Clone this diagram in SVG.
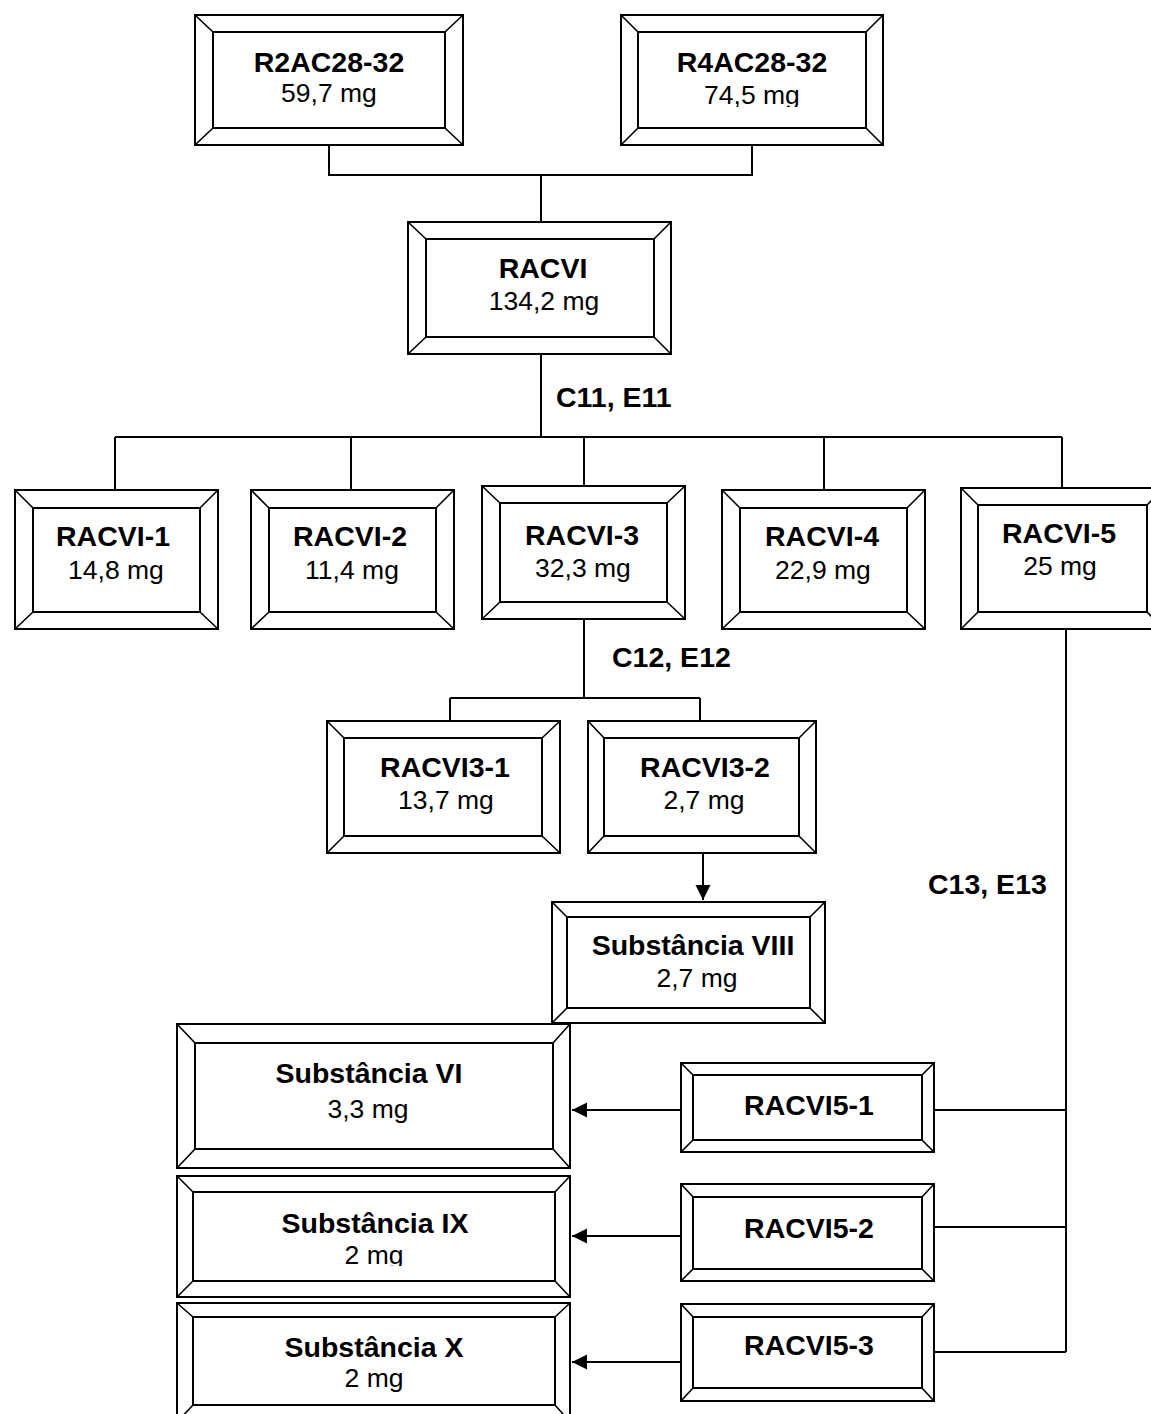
<svg xmlns="http://www.w3.org/2000/svg" width="1151" height="1414" viewBox="0 0 1151 1414">
<style>
.o{fill:#fff;stroke:#000;stroke-width:2}
.i{fill:none;stroke:#000;stroke-width:2}
.d{fill:none;stroke:#000;stroke-width:1.6}
.n{font-family:"Liberation Sans",Arial,sans-serif;font-weight:bold;font-size:28.5px;text-anchor:middle;fill:#000}
.v{font-family:"Liberation Sans",Arial,sans-serif;font-size:26.5px;text-anchor:middle;fill:#000}
.l{font-family:"Liberation Sans",Arial,sans-serif;font-weight:bold;font-size:28.5px;fill:#000}
.c{fill:none;stroke:#000;stroke-width:2}
</style>
<defs>
<marker id="ah" markerUnits="userSpaceOnUse" markerWidth="16" markerHeight="16" refX="15" refY="7.5" orient="auto">
<path d="M0,0 L15,7.5 L0,15 z" fill="#000"/>
</marker>
<clipPath id="clipIX"><rect x="177" y="1176" width="393" height="90"/></clipPath>
<clipPath id="clipR4"><rect x="621" y="15" width="262" height="92"/></clipPath>
</defs>
<rect width="1151" height="1414" fill="#fff"/>

<g id="connectors">
<path class="c" d="M329,145 V175 H752 V145"/>
<path class="c" d="M541,175 V222"/>
<path class="c" d="M541,354 V437"/>
<path class="c" d="M115,437 H1062"/>
<path class="c" d="M115,437 V490 M351,437 V490 M584,437 V486 M824,437 V490 M1062,437 V488"/>
<path class="c" d="M584,619 V698 M450,698 H700 M450,698 V721 M700,698 V721"/>
<path class="c" d="M703,853 V900" marker-end="url(#ah)"/>
<path class="c" d="M1066,629 V1352 M934,1110 H1066 M934,1227 H1066 M934,1352 H1066"/>
<path class="c" d="M681,1110 H572" marker-end="url(#ah)"/>
<path class="c" d="M681,1236 H572" marker-end="url(#ah)"/>
<path class="c" d="M681,1362 H572" marker-end="url(#ah)"/>
</g>

<g id="labels">
<text class="l" x="556" y="407">C11, E11</text>
<text class="l" x="612" y="667">C12, E12</text>
<text class="l" x="928" y="894">C13, E13</text>
</g>

<g id="R2AC28-32">
<rect class="o" x="195" y="15" width="268" height="130"/>
<rect class="i" x="213" y="32" width="232" height="96"/>
<path class="d" d="M195,15 L213,32 M463,15 L445,32 M195,145 L213,128 M463,145 L445,128"/>
<text class="n" x="329" y="72">R2AC28-32</text>
<text class="v" x="329" y="102">59,7 mg</text>
</g>

<g id="R4AC28-32">
<rect class="o" x="621" y="15" width="262" height="130"/>
<rect class="i" x="638" y="32" width="228" height="96"/>
<path class="d" d="M621,15 L638,32 M883,15 L866,32 M621,145 L638,128 M883,145 L866,128"/>
<text class="n" x="752" y="72">R4AC28-32</text>
<text class="v" x="752" y="104" clip-path="url(#clipR4)">74,5 mg</text>
</g>

<g id="RACVI">
<rect class="o" x="408" y="222" width="263" height="132"/>
<rect class="i" x="426" y="239" width="228" height="98"/>
<path class="d" d="M408,222 L426,239 M671,222 L654,239 M408,354 L426,337 M671,354 L654,337"/>
<text class="n" x="543" y="278">RACVI</text>
<text class="v" x="544" y="310">134,2 mg</text>
</g>

<g id="RACVI-1">
<rect class="o" x="15" y="490" width="203" height="139"/>
<rect class="i" x="33" y="508" width="167" height="104"/>
<path class="d" d="M15,490 L33,508 M218,490 L200,508 M15,629 L33,612 M218,629 L200,612"/>
<text class="n" x="113" y="546">RACVI-1</text>
<text class="v" x="116" y="579">14,8 mg</text>
</g>

<g id="RACVI-2">
<rect class="o" x="251" y="490" width="203" height="139"/>
<rect class="i" x="269" y="508" width="167" height="104"/>
<path class="d" d="M251,490 L269,508 M454,490 L436,508 M251,629 L269,612 M454,629 L436,612"/>
<text class="n" x="350" y="546">RACVI-2</text>
<text class="v" x="352" y="579">11,4 mg</text>
</g>

<g id="RACVI-3">
<rect class="o" x="482" y="486" width="203" height="133"/>
<rect class="i" x="500" y="503" width="167" height="99"/>
<path class="d" d="M482,486 L500,503 M685,486 L667,503 M482,619 L500,602 M685,619 L667,602"/>
<text class="n" x="582" y="545">RACVI-3</text>
<text class="v" x="583" y="577">32,3 mg</text>
</g>

<g id="RACVI-4">
<rect class="o" x="722" y="490" width="203" height="139"/>
<rect class="i" x="740" y="508" width="167" height="104"/>
<path class="d" d="M722,490 L740,508 M925,490 L907,508 M722,629 L740,612 M925,629 L907,612"/>
<text class="n" x="822" y="546">RACVI-4</text>
<text class="v" x="823" y="579">22,9 mg</text>
</g>

<g id="RACVI-5">
<rect class="o" x="961" y="488" width="203" height="141"/>
<rect class="i" x="978" y="505" width="169" height="107"/>
<path class="d" d="M961,488 L978,505 M1164,488 L1147,505 M961,629 L978,612 M1164,629 L1147,612"/>
<text class="n" x="1059" y="543">RACVI-5</text>
<text class="v" x="1060" y="575">25 mg</text>
</g>

<g id="RACVI3-1">
<rect class="o" x="327" y="721" width="233" height="132"/>
<rect class="i" x="344" y="738" width="198" height="98"/>
<path class="d" d="M327,721 L344,738 M560,721 L542,738 M327,853 L344,836 M560,853 L542,836"/>
<text class="n" x="445" y="777">RACVI3-1</text>
<text class="v" x="446" y="809">13,7 mg</text>
</g>

<g id="RACVI3-2">
<rect class="o" x="588" y="721" width="228" height="132"/>
<rect class="i" x="604" y="738" width="195" height="98"/>
<path class="d" d="M588,721 L604,738 M816,721 L799,738 M588,853 L604,836 M816,853 L799,836"/>
<text class="n" x="705" y="777">RACVI3-2</text>
<text class="v" x="704" y="809">2,7 mg</text>
</g>

<g id="Substancia-VIII">
<rect class="o" x="552" y="902" width="273" height="121"/>
<rect class="i" x="567" y="917" width="243" height="91"/>
<path class="d" d="M552,902 L567,917 M825,902 L810,917 M552,1023 L567,1008 M825,1023 L810,1008"/>
<text class="n" x="693" y="955">Substância VIII</text>
<text class="v" x="697" y="987">2,7 mg</text>
</g>

<g id="Substancia-VI">
<rect class="o" x="177" y="1024" width="393" height="144"/>
<rect class="i" x="195" y="1043" width="358" height="106"/>
<path class="d" d="M177,1024 L195,1043 M570,1024 L553,1043 M177,1168 L195,1149 M570,1168 L553,1149"/>
<text class="n" x="369" y="1083">Substância VI</text>
<text class="v" x="368" y="1118">3,3 mg</text>
</g>

<g id="Substancia-IX">
<rect class="o" x="177" y="1176" width="393" height="121"/>
<rect class="i" x="193" y="1192" width="362" height="89"/>
<path class="d" d="M177,1176 L193,1192 M570,1176 L555,1192 M177,1297 L193,1281 M570,1297 L555,1281"/>
<text class="n" x="375" y="1233">Substância IX</text>
<text class="v" x="374" y="1264" clip-path="url(#clipIX)">2 mg</text>
</g>

<g id="Substancia-X">
<rect class="o" x="177" y="1303" width="393" height="119"/>
<rect class="i" x="193" y="1317" width="362" height="88"/>
<path class="d" d="M177,1303 L193,1317 M570,1303 L555,1317 M177,1422 L193,1405 M570,1422 L555,1405"/>
<text class="n" x="374" y="1357">Substância X</text>
<text class="v" x="374" y="1387">2 mg</text>
</g>

<g id="RACVI5-1">
<rect class="o" x="681" y="1063" width="253" height="89"/>
<rect class="i" x="693" y="1075" width="229" height="65"/>
<path class="d" d="M681,1063 L693,1075 M934,1063 L922,1075 M681,1152 L693,1140 M934,1152 L922,1140"/>
<text class="n" x="809" y="1115">RACVI5-1</text>
</g>

<g id="RACVI5-2">
<rect class="o" x="681" y="1184" width="253" height="97"/>
<rect class="i" x="693" y="1197" width="229" height="72"/>
<path class="d" d="M681,1184 L693,1197 M934,1184 L922,1197 M681,1281 L693,1269 M934,1281 L922,1269"/>
<text class="n" x="809" y="1238">RACVI5-2</text>
</g>

<g id="RACVI5-3">
<rect class="o" x="681" y="1304" width="253" height="97"/>
<rect class="i" x="693" y="1317" width="229" height="71"/>
<path class="d" d="M681,1304 L693,1317 M934,1304 L922,1317 M681,1401 L693,1388 M934,1401 L922,1388"/>
<text class="n" x="809" y="1355">RACVI5-3</text>
</g>
</svg>
